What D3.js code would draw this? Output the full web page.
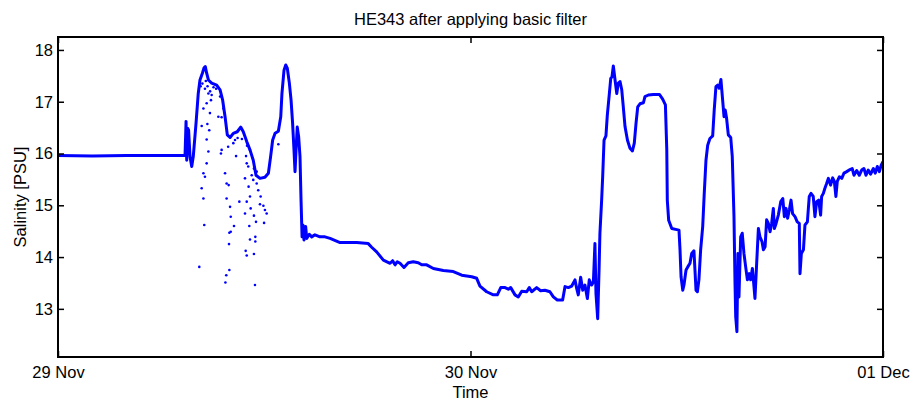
<!DOCTYPE html>
<html><head><meta charset="utf-8">
<script src="https://cdn.jsdelivr.net/npm/d3@7"></script>
<style>body{margin:0;background:#fff}svg{display:block}text{font-family:"Liberation Sans",Arial,sans-serif;fill:#000}</style>
</head><body><svg id="c" width="917" height="403"></svg>
<script>
// hours since 29 Nov 00:00
const lineHours = [0,2,4,6,7.39,7.43,7.45,7.49,7.54,7.60,7.68,7.78,7.87,8.03,8.16,8.26,8.40,8.49,8.57,8.65,8.75,8.94,9.23,9.43,9.58,9.72,9.85,10.01,10.20,10.43,10.63,10.78,10.98,11.17,11.36,11.52,11.75,12.04,12.24,12.37,12.49,12.63,12.82,12.96,13.03,13.15,13.25,13.34,13.46,13.56,13.65,13.73,13.79,13.85,13.92,14.00,14.08,14.14,14.20,14.25,14.31,14.41,14.47,14.62,14.76,14.95,15.24,15.53,15.83,16.41,17.38,18.05,18.25,18.54,18.93,19.32,19.47,19.61,19.74,19.90,20.13,20.38,20.67,20.96,21.16,21.45,21.84,22.42,23.00,23.49,24.07,24.36,24.55,24.94,25.33,25.56,25.76,26.01,26.20,26.34,26.59,26.78,26.98,27.27,27.42,27.56,27.85,28.08,28.33,28.62,28.82,29.05,29.36,29.50,29.69,29.89,30.08,30.18,30.27,30.41,30.53,30.66,30.80,30.91,31.05,31.15,31.24,31.30,31.40,31.48,31.53,31.63,31.69,31.77,31.88,31.96,32.08,32.16,32.23,32.31,32.41,32.51,32.60,32.70,32.80,32.89,32.99,33.13,33.28,33.42,33.53,33.63,33.73,33.86,34.06,34.15,34.35,34.64,34.99,35.18,35.34,35.42,35.45,35.53,35.71,36.00,36.13,36.19,36.25,36.35,36.42,36.54,36.64,36.77,36.87,37.00,37.06,37.12,37.20,37.29,37.39,37.51,37.60,37.70,37.80,37.93,38.09,38.18,38.28,38.38,38.47,38.57,38.67,38.75,38.82,38.90,39.00,39.14,39.23,39.33,39.39,39.43,39.50,39.56,39.62,39.72,39.81,39.91,40.01,40.11,40.22,40.30,40.40,40.46,40.55,40.65,40.75,40.84,40.96,41.04,41.14,41.23,41.33,41.43,41.52,41.62,41.68,41.78,41.91,42.05,42.17,42.26,42.36,42.45,42.55,42.65,42.74,42.88,43.01,43.13,43.17,43.25,43.37,43.46,43.60,43.71,43.81,43.94,44.04,44.14,44.26,44.37,44.43,44.53,44.62,44.72,44.82,44.95,45.07,45.17,45.26,45.34,45.46,45.60,45.73,45.89,46.08,46.21,46.31,46.47,46.62,46.76,46.89,47.01,47.14,47.28,47.44,47.55,47.67,47.79,47.90,48.0];
const lineSalinity = [15.96,15.95,15.96,15.96,15.96,16.39,16.62,15.87,16.49,16.45,15.94,15.75,15.94,16.58,17.16,17.42,17.55,17.65,17.68,17.55,17.42,17.36,17.32,17.23,17.03,16.71,16.36,16.31,16.39,16.42,16.51,16.42,16.23,16.07,15.87,15.58,15.52,15.54,15.62,15.94,16.26,16.39,16.43,16.71,17.16,17.61,17.71,17.65,17.36,17.03,16.58,16.07,15.65,16.07,16.51,16.33,15.94,15.10,14.39,14.62,14.33,14.59,14.36,14.44,14.39,14.43,14.39,14.39,14.36,14.28,14.28,14.26,14.19,14.10,13.94,13.88,13.93,13.85,13.91,13.88,13.80,13.89,13.91,13.89,13.85,13.85,13.78,13.74,13.72,13.65,13.62,13.59,13.44,13.33,13.27,13.27,13.41,13.41,13.38,13.41,13.27,13.23,13.34,13.33,13.41,13.33,13.41,13.35,13.36,13.33,13.23,13.17,13.17,13.43,13.41,13.44,13.56,13.39,13.27,13.61,13.36,13.46,13.20,13.56,13.46,13.52,14.26,13.30,12.81,13.75,14.46,15.10,15.55,16.26,16.34,16.74,17.16,17.45,17.48,17.69,17.42,17.16,17.36,17.39,17.23,16.90,16.52,16.26,16.10,16.05,16.20,16.58,16.90,16.96,16.98,17.10,17.13,17.14,17.14,17.05,16.94,16.07,15.10,14.71,14.55,14.53,14.52,14.14,13.62,13.36,13.46,13.75,13.81,13.88,14.07,14.12,13.75,13.36,13.33,13.56,14.14,14.59,15.23,15.87,16.16,16.29,16.34,16.84,17.29,17.32,17.26,17.43,17.03,16.71,16.84,16.68,16.36,16.31,15.94,14.78,13.49,12.85,12.56,14.07,13.23,14.39,14.46,14.07,13.81,13.56,13.68,13.56,13.78,13.56,13.20,13.88,14.55,14.39,14.30,14.14,14.20,14.72,14.65,14.49,14.65,14.94,14.55,14.65,14.81,15.07,15.13,14.78,14.94,14.75,14.91,15.10,14.84,14.78,14.68,14.65,13.68,14.07,14.14,14.62,14.68,15.17,15.23,15.17,14.78,15.07,15.10,14.81,15.17,15.23,15.33,15.42,15.52,15.39,15.53,15.46,15.17,15.46,15.55,15.52,15.62,15.65,15.69,15.71,15.58,15.67,15.58,15.68,15.71,15.58,15.68,15.60,15.71,15.62,15.75,15.65,15.78,15.84];

// scattered (filtered) points
const dotHours = [8.22,8.51,8.36,8.46,8.55,8.46,8.65,8.75,8.65,8.80,8.36,8.69,8.84,8.46,8.90,8.65,8.94,8.75,9.52,9.48,9.72,9.81,9.93,9.81,10.01,10.05,9.97,10.05,9.95,10.24,9.97,9.79,9.74,10.36,10.55,10.88,10.98,11.09,11.17,11.21,11.13,11.17,11.48,11.48,10.92,10.98,11.40,11.46,11.40,11.52,11.75,11.95,12.04,12.14,11.99,11.79,11.65,11.56,11.36,11.27,11.07,10.98,10.94,11.17,9.52,9.33,9.62,9.43,10.88,11.40,11.56,9.90,10.20,10.30,10.45,10.70,11.00,12.82,8.30,8.40,8.55,8.60,8.70,8.85,9.05,9.20];
const dotSalinity = [13.81,14.62,15.33,15.13,15.55,15.62,15.81,16.04,16.27,16.45,16.53,16.57,16.78,16.87,17.03,16.97,17.13,17.16,16.07,16.00,15.62,15.42,15.39,15.13,14.97,14.78,14.47,14.49,14.25,14.60,13.75,13.65,13.51,15.95,15.07,14.84,15.07,15.36,15.17,14.94,14.60,14.34,14.39,14.30,14.12,14.03,14.06,13.46,14.80,14.68,15.02,14.99,14.91,14.84,14.66,15.17,15.29,15.42,15.49,15.58,15.75,15.81,15.95,16.07,16.70,16.71,16.87,17.10,15.52,15.71,15.65,16.13,16.20,16.26,16.30,16.28,16.15,16.18,17.30,17.35,17.25,17.40,17.30,17.20,17.28,17.25];

const xTickHours = [0,24,48];
const xTickLabels = ["29 Nov","30 Nov","01 Dec"];
const yTicks = [13,14,15,16,17,18];

const svg = d3.select("#c");
const L=58,R=883,T=37,B=357;
const FS=16.5;
const x = d3.scaleLinear().domain([0,48]).range([L,R]);
const y = d3.scaleLinear().domain([12.07,18.25]).range([B,T]);

svg.append("clipPath").attr("id","pc").append("rect").attr("x",L).attr("y",T).attr("width",R-L).attr("height",B-T);
const g = svg.append("g").attr("clip-path","url(#pc)");

const pts = lineHours.map((h,i)=>[h,lineSalinity[i]]);
g.append("path").datum(pts)
 .attr("d", d3.line().x(d=>x(d[0])).y(d=>y(d[1])))
 .attr("fill","none").attr("stroke","#0000ff").attr("stroke-width",3)
 .attr("stroke-linejoin","round").attr("stroke-linecap","round");

g.selectAll("circle").data(dotHours.map((h,i)=>[h,dotSalinity[i]])).join("circle")
 .attr("cx",d=>x(d[0])).attr("cy",d=>y(d[1])).attr("r",1.3).attr("fill","#0000ff");

// axes
const tl=6;
const xb = d3.axisBottom(x).tickValues(xTickHours).tickFormat((d,i)=>xTickLabels[i]).tickSizeInner(-tl).tickSizeOuter(0).tickPadding(9);
const xt = d3.axisTop(x).tickValues(xTickHours).tickFormat("").tickSizeInner(-tl).tickSizeOuter(0);
const yl = d3.axisLeft(y).tickValues(yTicks).tickFormat(d3.format("d")).tickSizeInner(-tl).tickSizeOuter(0).tickPadding(5);
const yr = d3.axisRight(y).tickValues(yTicks).tickFormat("").tickSizeInner(-tl).tickSizeOuter(0);
function style(sel){sel.select(".domain").remove();sel.selectAll("line").attr("stroke","#000").attr("stroke-width",1.5);sel.selectAll("text").attr("font-size",FS).attr("fill","#000").attr("font-family","Liberation Sans, Arial, sans-serif");}
svg.append("g").attr("transform",`translate(0,${B})`).call(xb).call(style);
svg.append("g").attr("transform",`translate(0,${T})`).call(xt).call(style);
svg.append("g").attr("transform",`translate(${L},0)`).call(yl).call(style);
svg.append("g").attr("transform",`translate(${R},0)`).call(yr).call(style);
svg.append("rect").attr("x",L).attr("y",T).attr("width",R-L).attr("height",B-T).attr("fill","none").attr("stroke","#000").attr("stroke-width",2);

svg.append("text").attr("x",(L+R)/2).attr("y",25).attr("text-anchor","middle").attr("font-size",FS).text("HE343 after applying basic filter");
svg.append("text").attr("x",(L+R)/2).attr("y",398).attr("text-anchor","middle").attr("font-size",FS).text("Time");
svg.append("text").attr("transform",`translate(26,${(T+B)/2}) rotate(-90)`).attr("text-anchor","middle").attr("font-size",FS).text("Salinity [PSU]");
</script></body></html>
